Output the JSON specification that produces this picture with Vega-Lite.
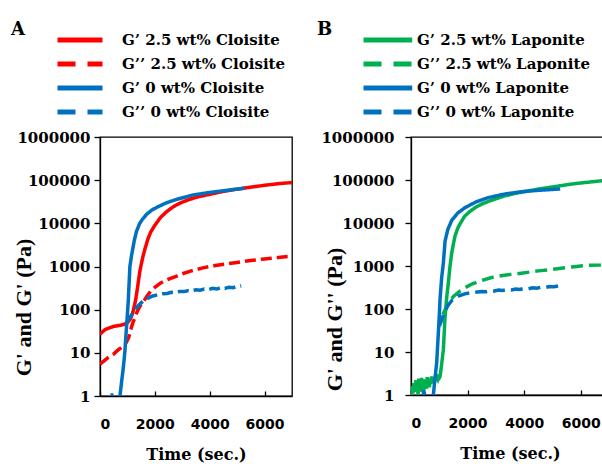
{
  "$schema": "https://vega.github.io/schema/vega-lite/v6.json",
  "background": "white",
  "padding": {"left": 10, "top": 29, "right": 0, "bottom": 0},
  "datasets": {
    "A": [
      {"series": "G’ 2.5 wt% Cloisite", "modulus": "G’", "time": 0, "G": 27},
      {"series": "G’ 2.5 wt% Cloisite", "modulus": "G’", "time": 100, "G": 31},
      {"series": "G’ 2.5 wt% Cloisite", "modulus": "G’", "time": 200, "G": 35},
      {"series": "G’ 2.5 wt% Cloisite", "modulus": "G’", "time": 350, "G": 38},
      {"series": "G’ 2.5 wt% Cloisite", "modulus": "G’", "time": 500, "G": 41},
      {"series": "G’ 2.5 wt% Cloisite", "modulus": "G’", "time": 700, "G": 43},
      {"series": "G’ 2.5 wt% Cloisite", "modulus": "G’", "time": 900, "G": 46},
      {"series": "G’ 2.5 wt% Cloisite", "modulus": "G’", "time": 1000, "G": 50},
      {"series": "G’ 2.5 wt% Cloisite", "modulus": "G’", "time": 1100, "G": 60},
      {"series": "G’ 2.5 wt% Cloisite", "modulus": "G’", "time": 1150, "G": 71},
      {"series": "G’ 2.5 wt% Cloisite", "modulus": "G’", "time": 1200, "G": 88},
      {"series": "G’ 2.5 wt% Cloisite", "modulus": "G’", "time": 1250, "G": 120},
      {"series": "G’ 2.5 wt% Cloisite", "modulus": "G’", "time": 1300, "G": 170},
      {"series": "G’ 2.5 wt% Cloisite", "modulus": "G’", "time": 1350, "G": 270},
      {"series": "G’ 2.5 wt% Cloisite", "modulus": "G’", "time": 1400, "G": 450},
      {"series": "G’ 2.5 wt% Cloisite", "modulus": "G’", "time": 1450, "G": 750},
      {"series": "G’ 2.5 wt% Cloisite", "modulus": "G’", "time": 1500, "G": 1100},
      {"series": "G’ 2.5 wt% Cloisite", "modulus": "G’", "time": 1575, "G": 1800},
      {"series": "G’ 2.5 wt% Cloisite", "modulus": "G’", "time": 1650, "G": 2700},
      {"series": "G’ 2.5 wt% Cloisite", "modulus": "G’", "time": 1750, "G": 4400},
      {"series": "G’ 2.5 wt% Cloisite", "modulus": "G’", "time": 1850, "G": 6300},
      {"series": "G’ 2.5 wt% Cloisite", "modulus": "G’", "time": 2000, "G": 9000},
      {"series": "G’ 2.5 wt% Cloisite", "modulus": "G’", "time": 2200, "G": 13500},
      {"series": "G’ 2.5 wt% Cloisite", "modulus": "G’", "time": 2400, "G": 18000},
      {"series": "G’ 2.5 wt% Cloisite", "modulus": "G’", "time": 2600, "G": 22500},
      {"series": "G’ 2.5 wt% Cloisite", "modulus": "G’", "time": 2800, "G": 27000},
      {"series": "G’ 2.5 wt% Cloisite", "modulus": "G’", "time": 3000, "G": 31000},
      {"series": "G’ 2.5 wt% Cloisite", "modulus": "G’", "time": 3300, "G": 36500},
      {"series": "G’ 2.5 wt% Cloisite", "modulus": "G’", "time": 3600, "G": 41500},
      {"series": "G’ 2.5 wt% Cloisite", "modulus": "G’", "time": 4000, "G": 47000},
      {"series": "G’ 2.5 wt% Cloisite", "modulus": "G’", "time": 4500, "G": 55000},
      {"series": "G’ 2.5 wt% Cloisite", "modulus": "G’", "time": 5000, "G": 62000},
      {"series": "G’ 2.5 wt% Cloisite", "modulus": "G’", "time": 5500, "G": 69000},
      {"series": "G’ 2.5 wt% Cloisite", "modulus": "G’", "time": 6000, "G": 76000},
      {"series": "G’ 2.5 wt% Cloisite", "modulus": "G’", "time": 6500, "G": 83000},
      {"series": "G’ 2.5 wt% Cloisite", "modulus": "G’", "time": 7000, "G": 88000},

      {"series": "G’’ 2.5 wt% Cloisite", "modulus": "G’’", "time": 0, "G": 5.5},
      {"series": "G’’ 2.5 wt% Cloisite", "modulus": "G’’", "time": 150, "G": 6.5},
      {"series": "G’’ 2.5 wt% Cloisite", "modulus": "G’’", "time": 300, "G": 7.8},
      {"series": "G’’ 2.5 wt% Cloisite", "modulus": "G’’", "time": 485, "G": 9.2},
      {"series": "G’’ 2.5 wt% Cloisite", "modulus": "G’’", "time": 650, "G": 11.5},
      {"series": "G’’ 2.5 wt% Cloisite", "modulus": "G’’", "time": 850, "G": 14.4},
      {"series": "G’’ 2.5 wt% Cloisite", "modulus": "G’’", "time": 950, "G": 17},
      {"series": "G’’ 2.5 wt% Cloisite", "modulus": "G’’", "time": 1050, "G": 23},
      {"series": "G’’ 2.5 wt% Cloisite", "modulus": "G’’", "time": 1100, "G": 30},
      {"series": "G’’ 2.5 wt% Cloisite", "modulus": "G’’", "time": 1150, "G": 40},
      {"series": "G’’ 2.5 wt% Cloisite", "modulus": "G’’", "time": 1200, "G": 50},
      {"series": "G’’ 2.5 wt% Cloisite", "modulus": "G’’", "time": 1272, "G": 65},
      {"series": "G’’ 2.5 wt% Cloisite", "modulus": "G’’", "time": 1350, "G": 88},
      {"series": "G’’ 2.5 wt% Cloisite", "modulus": "G’’", "time": 1450, "G": 118},
      {"series": "G’’ 2.5 wt% Cloisite", "modulus": "G’’", "time": 1575, "G": 150},
      {"series": "G’’ 2.5 wt% Cloisite", "modulus": "G’’", "time": 1700, "G": 200},
      {"series": "G’’ 2.5 wt% Cloisite", "modulus": "G’’", "time": 1850, "G": 270},
      {"series": "G’’ 2.5 wt% Cloisite", "modulus": "G’’", "time": 2000, "G": 330},
      {"series": "G’’ 2.5 wt% Cloisite", "modulus": "G’’", "time": 2200, "G": 410},
      {"series": "G’’ 2.5 wt% Cloisite", "modulus": "G’’", "time": 2400, "G": 480},
      {"series": "G’’ 2.5 wt% Cloisite", "modulus": "G’’", "time": 2600, "G": 540},
      {"series": "G’’ 2.5 wt% Cloisite", "modulus": "G’’", "time": 2800, "G": 600},
      {"series": "G’’ 2.5 wt% Cloisite", "modulus": "G’’", "time": 3000, "G": 680},
      {"series": "G’’ 2.5 wt% Cloisite", "modulus": "G’’", "time": 3300, "G": 780},
      {"series": "G’’ 2.5 wt% Cloisite", "modulus": "G’’", "time": 3750, "G": 930},
      {"series": "G’’ 2.5 wt% Cloisite", "modulus": "G’’", "time": 4200, "G": 1050},
      {"series": "G’’ 2.5 wt% Cloisite", "modulus": "G’’", "time": 4600, "G": 1150},
      {"series": "G’’ 2.5 wt% Cloisite", "modulus": "G’’", "time": 5000, "G": 1240},
      {"series": "G’’ 2.5 wt% Cloisite", "modulus": "G’’", "time": 5500, "G": 1380},
      {"series": "G’’ 2.5 wt% Cloisite", "modulus": "G’’", "time": 6000, "G": 1500},
      {"series": "G’’ 2.5 wt% Cloisite", "modulus": "G’’", "time": 6500, "G": 1620},
      {"series": "G’’ 2.5 wt% Cloisite", "modulus": "G’’", "time": 7000, "G": 1740},

      {"series": "G’ 0 wt% Cloisite", "modulus": "G’", "time": 380, "G": 1.05},
      {"series": "G’ 0 wt% Cloisite", "modulus": "G’", "time": 430, "G": 1.05},
      {"series": "G’ 0 wt% Cloisite", "modulus": "G’", "time": 450, "G": 0.5},
      {"series": "G’ 0 wt% Cloisite", "modulus": "G’", "time": 700, "G": 0.5},
      {"series": "G’ 0 wt% Cloisite", "modulus": "G’", "time": 727, "G": 1.0},
      {"series": "G’ 0 wt% Cloisite", "modulus": "G’", "time": 760, "G": 1.5},
      {"series": "G’ 0 wt% Cloisite", "modulus": "G’", "time": 800, "G": 2.5},
      {"series": "G’ 0 wt% Cloisite", "modulus": "G’", "time": 840, "G": 4},
      {"series": "G’ 0 wt% Cloisite", "modulus": "G’", "time": 880, "G": 7},
      {"series": "G’ 0 wt% Cloisite", "modulus": "G’", "time": 909, "G": 11},
      {"series": "G’ 0 wt% Cloisite", "modulus": "G’", "time": 950, "G": 28},
      {"series": "G’ 0 wt% Cloisite", "modulus": "G’", "time": 1000, "G": 80},
      {"series": "G’ 0 wt% Cloisite", "modulus": "G’", "time": 1030, "G": 158},
      {"series": "G’ 0 wt% Cloisite", "modulus": "G’", "time": 1060, "G": 400},
      {"series": "G’ 0 wt% Cloisite", "modulus": "G’", "time": 1090, "G": 1000},
      {"series": "G’ 0 wt% Cloisite", "modulus": "G’", "time": 1150, "G": 1800},
      {"series": "G’ 0 wt% Cloisite", "modulus": "G’", "time": 1250, "G": 4000},
      {"series": "G’ 0 wt% Cloisite", "modulus": "G’", "time": 1333, "G": 6600},
      {"series": "G’ 0 wt% Cloisite", "modulus": "G’", "time": 1450, "G": 10000},
      {"series": "G’ 0 wt% Cloisite", "modulus": "G’", "time": 1550, "G": 12500},
      {"series": "G’ 0 wt% Cloisite", "modulus": "G’", "time": 1700, "G": 16200},
      {"series": "G’ 0 wt% Cloisite", "modulus": "G’", "time": 1900, "G": 20500},
      {"series": "G’ 0 wt% Cloisite", "modulus": "G’", "time": 2100, "G": 24000},
      {"series": "G’ 0 wt% Cloisite", "modulus": "G’", "time": 2400, "G": 29500},
      {"series": "G’ 0 wt% Cloisite", "modulus": "G’", "time": 2800, "G": 36000},
      {"series": "G’ 0 wt% Cloisite", "modulus": "G’", "time": 3400, "G": 45500},
      {"series": "G’ 0 wt% Cloisite", "modulus": "G’", "time": 4000, "G": 52000},
      {"series": "G’ 0 wt% Cloisite", "modulus": "G’", "time": 4600, "G": 58000},
      {"series": "G’ 0 wt% Cloisite", "modulus": "G’", "time": 5270, "G": 65000},

      {"series": "G’’ 0 wt% Cloisite", "modulus": "G’’", "time": 960, "G": 50},
      {"series": "G’’ 0 wt% Cloisite", "modulus": "G’’", "time": 1000, "G": 55},
      {"series": "G’’ 0 wt% Cloisite", "modulus": "G’’", "time": 1100, "G": 68},
      {"series": "G’’ 0 wt% Cloisite", "modulus": "G’’", "time": 1210, "G": 85},
      {"series": "G’’ 0 wt% Cloisite", "modulus": "G’’", "time": 1300, "G": 105},
      {"series": "G’’ 0 wt% Cloisite", "modulus": "G’’", "time": 1400, "G": 125},
      {"series": "G’’ 0 wt% Cloisite", "modulus": "G’’", "time": 1575, "G": 159},
      {"series": "G’’ 0 wt% Cloisite", "modulus": "G’’", "time": 1750, "G": 185},
      {"series": "G’’ 0 wt% Cloisite", "modulus": "G’’", "time": 1900, "G": 205},
      {"series": "G’’ 0 wt% Cloisite", "modulus": "G’’", "time": 2100, "G": 222},
      {"series": "G’’ 0 wt% Cloisite", "modulus": "G’’", "time": 2300, "G": 235},
      {"series": "G’’ 0 wt% Cloisite", "modulus": "G’’", "time": 2450, "G": 238},
      {"series": "G’’ 0 wt% Cloisite", "modulus": "G’’", "time": 2600, "G": 252},
      {"series": "G’’ 0 wt% Cloisite", "modulus": "G’’", "time": 2750, "G": 250},
      {"series": "G’’ 0 wt% Cloisite", "modulus": "G’’", "time": 2900, "G": 264},
      {"series": "G’’ 0 wt% Cloisite", "modulus": "G’’", "time": 3050, "G": 262},
      {"series": "G’’ 0 wt% Cloisite", "modulus": "G’’", "time": 3200, "G": 275},
      {"series": "G’’ 0 wt% Cloisite", "modulus": "G’’", "time": 3350, "G": 270},
      {"series": "G’’ 0 wt% Cloisite", "modulus": "G’’", "time": 3500, "G": 290},
      {"series": "G’’ 0 wt% Cloisite", "modulus": "G’’", "time": 3650, "G": 283},
      {"series": "G’’ 0 wt% Cloisite", "modulus": "G’’", "time": 3800, "G": 300},
      {"series": "G’’ 0 wt% Cloisite", "modulus": "G’’", "time": 3950, "G": 292},
      {"series": "G’’ 0 wt% Cloisite", "modulus": "G’’", "time": 4100, "G": 312},
      {"series": "G’’ 0 wt% Cloisite", "modulus": "G’’", "time": 4250, "G": 300},
      {"series": "G’’ 0 wt% Cloisite", "modulus": "G’’", "time": 4400, "G": 322},
      {"series": "G’’ 0 wt% Cloisite", "modulus": "G’’", "time": 4550, "G": 310},
      {"series": "G’’ 0 wt% Cloisite", "modulus": "G’’", "time": 4700, "G": 332},
      {"series": "G’’ 0 wt% Cloisite", "modulus": "G’’", "time": 4850, "G": 322},
      {"series": "G’’ 0 wt% Cloisite", "modulus": "G’’", "time": 5000, "G": 345},
      {"series": "G’’ 0 wt% Cloisite", "modulus": "G’’", "time": 5150, "G": 355}
    ],
    "B": [
      {"series": "G’ 2.5 wt% Laponite", "modulus": "G’", "time": 0, "G": 1.3},
      {"series": "G’ 2.5 wt% Laponite", "modulus": "G’", "time": 25, "G": 0.9},
      {"series": "G’ 2.5 wt% Laponite", "modulus": "G’", "time": 50, "G": 1.6},
      {"series": "G’ 2.5 wt% Laponite", "modulus": "G’", "time": 75, "G": 1.1},
      {"series": "G’ 2.5 wt% Laponite", "modulus": "G’", "time": 100, "G": 1.9},
      {"series": "G’ 2.5 wt% Laponite", "modulus": "G’", "time": 125, "G": 1.2},
      {"series": "G’ 2.5 wt% Laponite", "modulus": "G’", "time": 150, "G": 1.5},
      {"series": "G’ 2.5 wt% Laponite", "modulus": "G’", "time": 175, "G": 2.2},
      {"series": "G’ 2.5 wt% Laponite", "modulus": "G’", "time": 200, "G": 1.3},
      {"series": "G’ 2.5 wt% Laponite", "modulus": "G’", "time": 225, "G": 1.8},
      {"series": "G’ 2.5 wt% Laponite", "modulus": "G’", "time": 250, "G": 0.95},
      {"series": "G’ 2.5 wt% Laponite", "modulus": "G’", "time": 275, "G": 2.4},
      {"series": "G’ 2.5 wt% Laponite", "modulus": "G’", "time": 300, "G": 1.4},
      {"series": "G’ 2.5 wt% Laponite", "modulus": "G’", "time": 325, "G": 2.0},
      {"series": "G’ 2.5 wt% Laponite", "modulus": "G’", "time": 350, "G": 1.2},
      {"series": "G’ 2.5 wt% Laponite", "modulus": "G’", "time": 375, "G": 2.5},
      {"series": "G’ 2.5 wt% Laponite", "modulus": "G’", "time": 400, "G": 1.5},
      {"series": "G’ 2.5 wt% Laponite", "modulus": "G’", "time": 425, "G": 1.9},
      {"series": "G’ 2.5 wt% Laponite", "modulus": "G’", "time": 450, "G": 1.1},
      {"series": "G’ 2.5 wt% Laponite", "modulus": "G’", "time": 475, "G": 2.3},
      {"series": "G’ 2.5 wt% Laponite", "modulus": "G’", "time": 500, "G": 1.6},
      {"series": "G’ 2.5 wt% Laponite", "modulus": "G’", "time": 525, "G": 2.1},
      {"series": "G’ 2.5 wt% Laponite", "modulus": "G’", "time": 550, "G": 1.4},
      {"series": "G’ 2.5 wt% Laponite", "modulus": "G’", "time": 575, "G": 2.6},
      {"series": "G’ 2.5 wt% Laponite", "modulus": "G’", "time": 600, "G": 1.7},
      {"series": "G’ 2.5 wt% Laponite", "modulus": "G’", "time": 625, "G": 2.2},
      {"series": "G’ 2.5 wt% Laponite", "modulus": "G’", "time": 650, "G": 1.5},
      {"series": "G’ 2.5 wt% Laponite", "modulus": "G’", "time": 675, "G": 2.4},
      {"series": "G’ 2.5 wt% Laponite", "modulus": "G’", "time": 700, "G": 1.8},
      {"series": "G’ 2.5 wt% Laponite", "modulus": "G’", "time": 725, "G": 2.7},
      {"series": "G’ 2.5 wt% Laponite", "modulus": "G’", "time": 750, "G": 2.0},
      {"series": "G’ 2.5 wt% Laponite", "modulus": "G’", "time": 775, "G": 2.4},
      {"series": "G’ 2.5 wt% Laponite", "modulus": "G’", "time": 800, "G": 1.9},
      {"series": "G’ 2.5 wt% Laponite", "modulus": "G’", "time": 825, "G": 2.6},
      {"series": "G’ 2.5 wt% Laponite", "modulus": "G’", "time": 850, "G": 2.1},
      {"series": "G’ 2.5 wt% Laponite", "modulus": "G’", "time": 875, "G": 2.8},
      {"series": "G’ 2.5 wt% Laponite", "modulus": "G’", "time": 900, "G": 2.2},
      {"series": "G’ 2.5 wt% Laponite", "modulus": "G’", "time": 925, "G": 2.5},
      {"series": "G’ 2.5 wt% Laponite", "modulus": "G’", "time": 950, "G": 2.3},
      {"series": "G’ 2.5 wt% Laponite", "modulus": "G’", "time": 975, "G": 2.6},
      {"series": "G’ 2.5 wt% Laponite", "modulus": "G’", "time": 1000, "G": 2.5},
      {"series": "G’ 2.5 wt% Laponite", "modulus": "G’", "time": 1027, "G": 2.7},
      {"series": "G’ 2.5 wt% Laponite", "modulus": "G’", "time": 1080, "G": 5},
      {"series": "G’ 2.5 wt% Laponite", "modulus": "G’", "time": 1145, "G": 11.5},
      {"series": "G’ 2.5 wt% Laponite", "modulus": "G’", "time": 1175, "G": 28},
      {"series": "G’ 2.5 wt% Laponite", "modulus": "G’", "time": 1200, "G": 60},
      {"series": "G’ 2.5 wt% Laponite", "modulus": "G’", "time": 1260, "G": 180},
      {"series": "G’ 2.5 wt% Laponite", "modulus": "G’", "time": 1320, "G": 410},
      {"series": "G’ 2.5 wt% Laponite", "modulus": "G’", "time": 1380, "G": 1000},
      {"series": "G’ 2.5 wt% Laponite", "modulus": "G’", "time": 1440, "G": 2000},
      {"series": "G’ 2.5 wt% Laponite", "modulus": "G’", "time": 1500, "G": 3300},
      {"series": "G’ 2.5 wt% Laponite", "modulus": "G’", "time": 1557, "G": 5000},
      {"series": "G’ 2.5 wt% Laponite", "modulus": "G’", "time": 1650, "G": 7500},
      {"series": "G’ 2.5 wt% Laponite", "modulus": "G’", "time": 1750, "G": 10000},
      {"series": "G’ 2.5 wt% Laponite", "modulus": "G’", "time": 1900, "G": 14500},
      {"series": "G’ 2.5 wt% Laponite", "modulus": "G’", "time": 2100, "G": 19000},
      {"series": "G’ 2.5 wt% Laponite", "modulus": "G’", "time": 2300, "G": 23500},
      {"series": "G’ 2.5 wt% Laponite", "modulus": "G’", "time": 2500, "G": 27500},
      {"series": "G’ 2.5 wt% Laponite", "modulus": "G’", "time": 2800, "G": 33000},
      {"series": "G’ 2.5 wt% Laponite", "modulus": "G’", "time": 3000, "G": 36500},
      {"series": "G’ 2.5 wt% Laponite", "modulus": "G’", "time": 3300, "G": 42500},
      {"series": "G’ 2.5 wt% Laponite", "modulus": "G’", "time": 3700, "G": 49000},
      {"series": "G’ 2.5 wt% Laponite", "modulus": "G’", "time": 4000, "G": 53500},
      {"series": "G’ 2.5 wt% Laponite", "modulus": "G’", "time": 4500, "G": 61500},
      {"series": "G’ 2.5 wt% Laponite", "modulus": "G’", "time": 5000, "G": 69000},
      {"series": "G’ 2.5 wt% Laponite", "modulus": "G’", "time": 5700, "G": 81000},
      {"series": "G’ 2.5 wt% Laponite", "modulus": "G’", "time": 6200, "G": 88000},
      {"series": "G’ 2.5 wt% Laponite", "modulus": "G’", "time": 6750, "G": 96000},
      {"series": "G’ 2.5 wt% Laponite", "modulus": "G’", "time": 7000, "G": 99000},

      {"series": "G’’ 2.5 wt% Laponite", "modulus": "G’’", "time": 1130, "G": 75},
      {"series": "G’’ 2.5 wt% Laponite", "modulus": "G’’", "time": 1200, "G": 95},
      {"series": "G’’ 2.5 wt% Laponite", "modulus": "G’’", "time": 1300, "G": 125},
      {"series": "G’’ 2.5 wt% Laponite", "modulus": "G’’", "time": 1400, "G": 160},
      {"series": "G’’ 2.5 wt% Laponite", "modulus": "G’’", "time": 1500, "G": 195},
      {"series": "G’’ 2.5 wt% Laponite", "modulus": "G’’", "time": 1675, "G": 245},
      {"series": "G’’ 2.5 wt% Laponite", "modulus": "G’’", "time": 1900, "G": 310},
      {"series": "G’’ 2.5 wt% Laponite", "modulus": "G’’", "time": 2150, "G": 380},
      {"series": "G’’ 2.5 wt% Laponite", "modulus": "G’’", "time": 2500, "G": 460},
      {"series": "G’’ 2.5 wt% Laponite", "modulus": "G’’", "time": 2850, "G": 540},
      {"series": "G’’ 2.5 wt% Laponite", "modulus": "G’’", "time": 3300, "G": 610},
      {"series": "G’’ 2.5 wt% Laponite", "modulus": "G’’", "time": 3900, "G": 680},
      {"series": "G’’ 2.5 wt% Laponite", "modulus": "G’’", "time": 4500, "G": 770},
      {"series": "G’’ 2.5 wt% Laponite", "modulus": "G’’", "time": 5100, "G": 850},
      {"series": "G’’ 2.5 wt% Laponite", "modulus": "G’’", "time": 5700, "G": 950},
      {"series": "G’’ 2.5 wt% Laponite", "modulus": "G’’", "time": 6276, "G": 1040},
      {"series": "G’’ 2.5 wt% Laponite", "modulus": "G’’", "time": 6700, "G": 1050},
      {"series": "G’’ 2.5 wt% Laponite", "modulus": "G’’", "time": 7000, "G": 1080},

      {"series": "G’ 0 wt% Laponite", "modulus": "G’", "time": 430, "G": 1.3},
      {"series": "G’ 0 wt% Laponite", "modulus": "G’", "time": 450, "G": 1.0},
      {"series": "G’ 0 wt% Laponite", "modulus": "G’", "time": 470, "G": 1.2},
      {"series": "G’ 0 wt% Laponite", "modulus": "G’", "time": 490, "G": 0.6},
      {"series": "G’ 0 wt% Laponite", "modulus": "G’", "time": 760, "G": 0.6},
      {"series": "G’ 0 wt% Laponite", "modulus": "G’", "time": 790, "G": 1.0},
      {"series": "G’ 0 wt% Laponite", "modulus": "G’", "time": 850, "G": 2.5},
      {"series": "G’ 0 wt% Laponite", "modulus": "G’", "time": 908, "G": 5.6},
      {"series": "G’ 0 wt% Laponite", "modulus": "G’", "time": 967, "G": 28},
      {"series": "G’ 0 wt% Laponite", "modulus": "G’", "time": 1000, "G": 70},
      {"series": "G’ 0 wt% Laponite", "modulus": "G’", "time": 1027, "G": 170},
      {"series": "G’ 0 wt% Laponite", "modulus": "G’", "time": 1080, "G": 500},
      {"series": "G’ 0 wt% Laponite", "modulus": "G’", "time": 1145, "G": 1200},
      {"series": "G’ 0 wt% Laponite", "modulus": "G’", "time": 1204, "G": 3800},
      {"series": "G’ 0 wt% Laponite", "modulus": "G’", "time": 1300, "G": 7000},
      {"series": "G’ 0 wt% Laponite", "modulus": "G’", "time": 1440, "G": 11500},
      {"series": "G’ 0 wt% Laponite", "modulus": "G’", "time": 1650, "G": 17000},
      {"series": "G’ 0 wt% Laponite", "modulus": "G’", "time": 1900, "G": 22500},
      {"series": "G’ 0 wt% Laponite", "modulus": "G’", "time": 2300, "G": 31000},
      {"series": "G’ 0 wt% Laponite", "modulus": "G’", "time": 2737, "G": 39000},
      {"series": "G’ 0 wt% Laponite", "modulus": "G’", "time": 3300, "G": 47000},
      {"series": "G’ 0 wt% Laponite", "modulus": "G’", "time": 3918, "G": 53500},
      {"series": "G’ 0 wt% Laponite", "modulus": "G’", "time": 4500, "G": 57500},
      {"series": "G’ 0 wt% Laponite", "modulus": "G’", "time": 5274, "G": 62000},

      {"series": "G’’ 0 wt% Laponite", "modulus": "G’’", "time": 1000, "G": 40},
      {"series": "G’’ 0 wt% Laponite", "modulus": "G’’", "time": 1027, "G": 44},
      {"series": "G’’ 0 wt% Laponite", "modulus": "G’’", "time": 1100, "G": 60},
      {"series": "G’’ 0 wt% Laponite", "modulus": "G’’", "time": 1204, "G": 90},
      {"series": "G’’ 0 wt% Laponite", "modulus": "G’’", "time": 1300, "G": 120},
      {"series": "G’’ 0 wt% Laponite", "modulus": "G’’", "time": 1450, "G": 160},
      {"series": "G’’ 0 wt% Laponite", "modulus": "G’’", "time": 1675, "G": 200},
      {"series": "G’’ 0 wt% Laponite", "modulus": "G’’", "time": 1900, "G": 225},
      {"series": "G’’ 0 wt% Laponite", "modulus": "G’’", "time": 2150, "G": 240},
      {"series": "G’’ 0 wt% Laponite", "modulus": "G’’", "time": 2350, "G": 248},
      {"series": "G’’ 0 wt% Laponite", "modulus": "G’’", "time": 2500, "G": 255},
      {"series": "G’’ 0 wt% Laponite", "modulus": "G’’", "time": 2650, "G": 252},
      {"series": "G’’ 0 wt% Laponite", "modulus": "G’’", "time": 2800, "G": 266},
      {"series": "G’’ 0 wt% Laponite", "modulus": "G’’", "time": 2950, "G": 262},
      {"series": "G’’ 0 wt% Laponite", "modulus": "G’’", "time": 3100, "G": 275},
      {"series": "G’’ 0 wt% Laponite", "modulus": "G’’", "time": 3250, "G": 270},
      {"series": "G’’ 0 wt% Laponite", "modulus": "G’’", "time": 3400, "G": 282},
      {"series": "G’’ 0 wt% Laponite", "modulus": "G’’", "time": 3550, "G": 278},
      {"series": "G’’ 0 wt% Laponite", "modulus": "G’’", "time": 3700, "G": 292},
      {"series": "G’’ 0 wt% Laponite", "modulus": "G’’", "time": 3850, "G": 285},
      {"series": "G’’ 0 wt% Laponite", "modulus": "G’’", "time": 4000, "G": 302},
      {"series": "G’’ 0 wt% Laponite", "modulus": "G’’", "time": 4150, "G": 295},
      {"series": "G’’ 0 wt% Laponite", "modulus": "G’’", "time": 4300, "G": 312},
      {"series": "G’’ 0 wt% Laponite", "modulus": "G’’", "time": 4450, "G": 305},
      {"series": "G’’ 0 wt% Laponite", "modulus": "G’’", "time": 4600, "G": 322},
      {"series": "G’’ 0 wt% Laponite", "modulus": "G’’", "time": 4750, "G": 318},
      {"series": "G’’ 0 wt% Laponite", "modulus": "G’’", "time": 4900, "G": 335},
      {"series": "G’’ 0 wt% Laponite", "modulus": "G’’", "time": 5050, "G": 330},
      {"series": "G’’ 0 wt% Laponite", "modulus": "G’’", "time": 5274, "G": 350}
    ]
  },
  "config": {
    "view": {"stroke": "black", "strokeWidth": 1.3},
    "axis": {
      "grid": false,
      "domainColor": "black",
      "domainWidth": 1.3,
      "tickColor": "black",
      "tickWidth": 1.3,
      "labelColor": "black",
      "titleColor": "black"
    },
    "legend": {
      "orient": "none",
      "direction": "vertical",
      "padding": 0,
      "symbolSize": 225,
      "symbolStrokeWidth": 5,
      "labelFont": "DejaVu Serif",
      "labelFontWeight": "bold",
      "labelFontSize": 15,
      "labelColor": "black",
      "labelLimit": 400,
      "rowPadding": 4,
      "titleFont": "DejaVu Serif",
      "titleFontWeight": "bold",
      "titleFontSize": 18,
      "titleColor": "black",
      "titleOrient": "left",
      "titleAnchor": "start",
      "titleBaseline": "middle"
    }
  },
  "spacing": 23,
  "hconcat": [
    {
      "width": 192,
      "height": 259,
      "data": {"name": "A"},
      "mark": {"type": "line", "strokeWidth": 3.5, "clip": true},
      "encoding": {
        "x": {"field": "time", "type": "quantitative", "scale": {"domain": [0, 7000], "nice": false},
          "axis": {"title": "Time (sec.)", "values": [0, 2000, 4000, 6000], "format": "d",
            "labelFont": "DejaVu Sans", "labelFontWeight": "bold", "labelFontSize": 14, "tickSize": -5, "labelPadding": 26,
            "titleFont": "DejaVu Serif", "titleFontWeight": "bold", "titleFontSize": 16, "titlePadding": 15}},
        "y": {"field": "G", "type": "quantitative", "scale": {"type": "log", "domain": [1, 1000000], "nice": false},
          "axis": {"title": "G' and G' (Pa)", "values": [1, 10, 100, 1000, 10000, 100000, 1000000], "format": "d",
            "labelFont": "DejaVu Serif", "labelFontWeight": "bold", "labelFontSize": 15, "tickSize": 6, "labelPadding": 4,
            "titleFont": "Liberation Serif", "titleFontWeight": "bold", "titleFontSize": 22, "titleAngle": -90, "titleAlign": "center", "titleBaseline": "middle",
            "titleX": -77, "titleY": 170}},
        "color": {
          "field": "series", "type": "nominal",
          "scale": {"domain": ["G’ 2.5 wt% Cloisite", "G’’ 2.5 wt% Cloisite", "G’ 0 wt% Cloisite", "G’’ 0 wt% Cloisite"], "range": ["#ff0000", "#ff0000", "#0070c0", "#0070c0"]},
          "legend": {
            "title": "A",
            "legendX": -89,
            "legendY": -107,
            "titlePadding": 30,
            "symbolType": "M-1,0H5",
            "labelOffset": 47,
            "encode": {"symbols": {"update": {"strokeDash": {"signal": "indexof(datum.value, '’’') >= 0 ? [18, 12] : [1, 0]"}}}}
          }
        },
        "strokeDash": {"field": "modulus", "type": "nominal", "scale": {"domain": ["G’", "G’’"], "range": [[1, 0], [11, 5]]}, "legend": null}
      }
    },
    {
      "width": 198,
      "height": 258,
      "data": {"name": "B"},
      "mark": {"type": "line", "strokeWidth": 3.5, "clip": true},
      "encoding": {
        "x": {"field": "time", "type": "quantitative", "scale": {"domain": [0, 7000], "nice": false},
          "axis": {"title": "Time (sec.)", "values": [0, 2000, 4000, 6000], "format": "d",
            "labelFont": "DejaVu Sans", "labelFontWeight": "bold", "labelFontSize": 14, "tickSize": -5, "labelPadding": 26,
            "titleFont": "DejaVu Serif", "titleFontWeight": "bold", "titleFontSize": 16, "titlePadding": 15}},
        "y": {"field": "G", "type": "quantitative", "scale": {"type": "log", "domain": [1, 1000000], "nice": false},
          "axis": {"title": "G' and G'' (Pa)", "values": [1, 10, 100, 1000, 10000, 100000, 1000000], "format": "d",
            "labelFont": "DejaVu Serif", "labelFontWeight": "bold", "labelFontSize": 15, "tickSize": 6, "labelPadding": 11,
            "titleFont": "Liberation Serif", "titleFontWeight": "bold", "titleFontSize": 22, "titleAngle": -90, "titleAlign": "center", "titleBaseline": "middle",
            "titleX": -77, "titleY": 182}},
        "color": {
          "field": "series", "type": "nominal",
          "scale": {"domain": ["G’ 2.5 wt% Laponite", "G’’ 2.5 wt% Laponite", "G’ 0 wt% Laponite", "G’’ 0 wt% Laponite"], "range": ["#00b050", "#00b050", "#0070c0", "#0070c0"]},
          "legend": {
            "title": "B",
            "legendX": -94,
            "legendY": -107,
            "titlePadding": 28,
            "symbolType": "M-1,0H5.5",
            "labelOffset": 36,
            "encode": {"symbols": {"update": {"strokeDash": {"signal": "indexof(datum.value, '’’') >= 0 ? [18, 12] : [1, 0]"}}}}
          }
        },
        "strokeDash": {"field": "modulus", "type": "nominal", "scale": {"domain": ["G’", "G’’"], "range": [[1, 0], [12, 6]]}, "legend": null}
      }
    }
  ],
  "resolve": {
    "scale": {"color": "independent", "strokeDash": "independent", "x": "independent", "y": "independent"},
    "legend": {"color": "independent"}
  }
}
